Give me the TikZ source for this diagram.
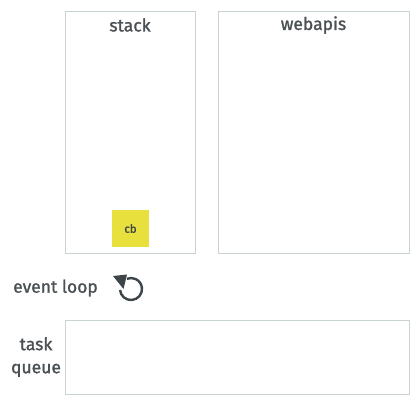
\documentclass[tikz,border=0pt]{standalone}
\usepackage{fontspec}
\setmainfont{Fira Sans}
\newfontfamily\labelfont{Fira Sans}[FakeBold=1.3]
\usetikzlibrary{calc}

\definecolor{boxline}{HTML}{C9D3D6}
\definecolor{ink}{HTML}{4A5053}
\definecolor{cbfill}{HTML}{E8E03C}
\definecolor{icon}{HTML}{3D4548}

\tikzset{
    panel/.style={draw=boxline, line width=.8pt, fill=white, inner sep=0pt},
    title/.style={text=ink, font=\labelfont\fontsize{17.5}{23}\selectfont},
}

\begin{document}
\begin{tikzpicture}[x=1pt, y=-1pt]
    \useasboundingbox (0, 0) rectangle (419, 402);
    \def\R{11}
    \coordinate (loop) at (131, 289);

    \node[panel, minimum width=130, minimum height=242] (stack) at (130, 132) {};
    \node[panel, minimum width=191, minimum height=242] (webapis) at (313.5, 132) {};
    \node[panel, minimum width=344, minimum height=74] (queue) at (237, 357) {};

    \node[title] (stacklbl) at (130, 25) {stack};
    \node[title] (webapislbl) at (313.5, 25) {webapis};
    \node[fill=cbfill, minimum size=37, inner sep=0pt, text=icon,
          font=\labelfont\fontsize{11.5}{13}\selectfont] (cb) at (130.5, 228.5) {cb};

    \node[title] (looplbl) at (55.5, 288) {event loop};
    \node[title, align=center] (queuelbl) at (36, 357) {task\\queue};

    % event loop icon
    \draw[icon, line width=2.4pt] ($ (loop) + (175:\R) $) arc[start angle=175, end angle=-112, radius=\R];
    \fill[icon] (113, 276) -- (127, 274.5) -- (123.5, 289) -- cycle;
\end{tikzpicture}
\end{document}
